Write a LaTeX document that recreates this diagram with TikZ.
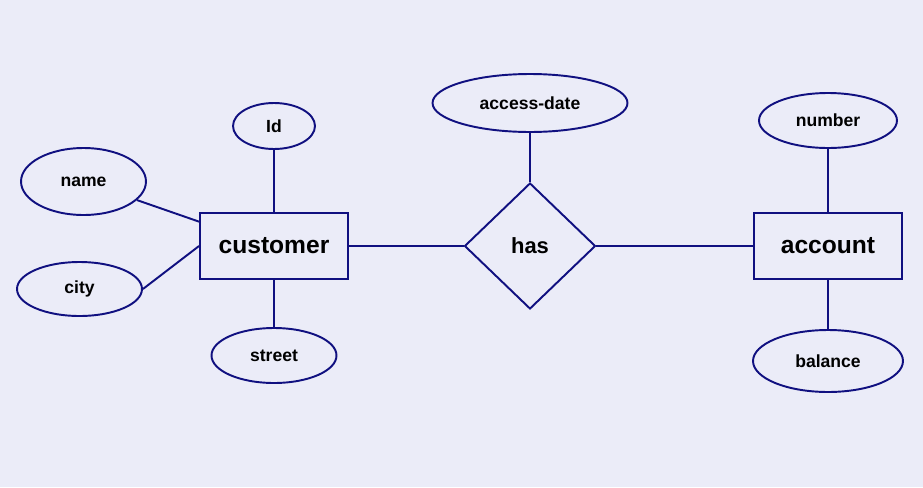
\documentclass[tikz,border=0pt]{standalone}
\usepackage{fontspec}
\setmainfont{Liberation Sans}
\usepackage{tikz}
\usetikzlibrary{shapes,positioning,calc}

\definecolor{erline}{RGB}{16,16,128}
\definecolor{erback}{RGB}{235,236,248}

\begin{document}
\begin{tikzpicture}[
    x=0.02cm, y=-0.02cm,
    entity/.style={rectangle, draw=erline, line width=1.1pt, inner sep=0pt, font=\fontsize{14}{16}\selectfont\bfseries},
    relation/.style={diamond, draw=erline, line width=1.1pt, inner sep=0pt, minimum width=2.62cm, minimum height=2.52cm, font=\fontsize{12.5}{14}\selectfont\bfseries},
    attr/.style={ellipse, draw=erline, line width=1.1pt, inner sep=0pt, font=\fontsize{10}{12}\selectfont\bfseries},
    link/.style={draw=erline, line width=1.1pt}
]

% Background
\fill[erback] (0,0) rectangle (923,487);
\useasboundingbox (0,0) rectangle (923,487);

% Entities and relationship
\node[entity, minimum width=2.96cm, minimum height=1.32cm] (customer) at (274,246) {customer};
\node[entity, minimum width=2.96cm, minimum height=1.32cm] (account) at (828,246) {account};
\node[relation] (has) at (530,246) {has};

% Attributes
\node[attr, minimum width=1.64cm, minimum height=0.92cm] (id) at (274,126) {Id};
\node[attr, minimum width=2.5cm, minimum height=1.34cm] (name) at (83.5,181.5) {name};
\node[attr, minimum width=2.5cm, minimum height=1.08cm] (city) at (79.5,289) {city};
\node[attr, minimum width=2.5cm, minimum height=1.1cm] (street) at (274,355.5) {street};
\node[attr, minimum width=3.9cm, minimum height=1.16cm] (accessdate) at (530,103) {access-date};
\node[attr, minimum width=2.76cm, minimum height=1.1cm] (number) at (828,120.5) {number};
\node[attr, minimum width=3cm, minimum height=1.24cm] (balance) at (828,361) {balance};

% Links
\draw[link] (id) -- (customer);
\draw[link] (name) -- (customer.162);
\draw[link] (city.east) -- (customer.west);
\draw[link] (customer) -- (street);
\draw[link] (customer) -- (has);
\draw[link] (accessdate) -- (has);
\draw[link] (has) -- (account);
\draw[link] (number) -- (account);
\draw[link] (account) -- (balance);

\end{tikzpicture}
\end{document}
